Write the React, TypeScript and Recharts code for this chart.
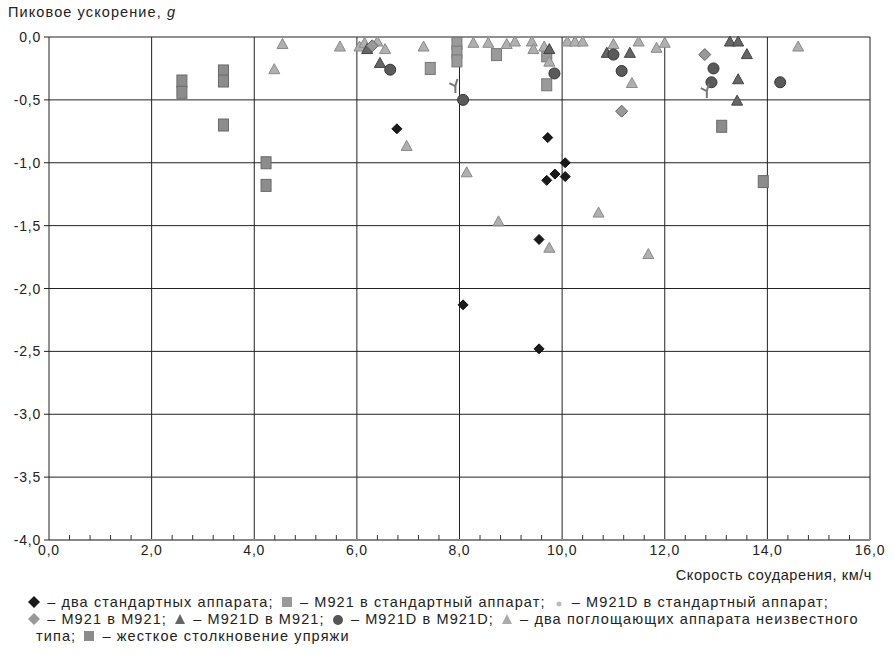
import React from 'react';
import {
  ScatterChart, Scatter, XAxis, YAxis, CartesianGrid, ReferenceLine,
} from 'recharts';

// speed (km/h), peak acceleration (g)
const twoStandard = [
  { x: 6.78, y: -0.73 }, { x: 8.07, y: -2.13 }, { x: 9.55, y: -1.61 },
  { x: 9.55, y: -2.48 }, { x: 9.72, y: -0.8 }, { x: 9.7, y: -1.14 },
  { x: 9.86, y: -1.09 }, { x: 10.06, y: -1.11 }, { x: 10.06, y: -1.0 },
];
const m921ToStandard = [
  { x: 7.43, y: -0.25 }, { x: 7.95, y: -0.05 }, { x: 7.95, y: -0.12 },
  { x: 7.95, y: -0.19 }, { x: 8.72, y: -0.14 }, { x: 9.7, y: -0.15 },
  { x: 9.7, y: -0.38 },
];
const m921dToStandard = [
  { x: 7.92, y: -0.39 }, { x: 12.82, y: -0.43 },
];
const m921ToM921 = [
  { x: 6.3, y: -0.07 }, { x: 11.16, y: -0.59 }, { x: 12.78, y: -0.14 },
];
const m921dToM921 = [
  { x: 6.2, y: -0.1 }, { x: 6.45, y: -0.21 }, { x: 9.75, y: -0.1 },
  { x: 10.87, y: -0.13 }, { x: 11.32, y: -0.13 }, { x: 13.27, y: -0.04 },
  { x: 13.43, y: -0.04 }, { x: 13.6, y: -0.14 }, { x: 13.43, y: -0.34 },
  { x: 13.41, y: -0.51 },
];
const m921dToM921d = [
  { x: 6.65, y: -0.26 }, { x: 8.07, y: -0.5 }, { x: 9.85, y: -0.29 },
  { x: 11.0, y: -0.14 }, { x: 11.16, y: -0.27 }, { x: 12.95, y: -0.25 },
  { x: 12.91, y: -0.36 }, { x: 14.25, y: -0.36 },
];
const unknownType = [
  { x: 4.39, y: -0.26 }, { x: 4.55, y: -0.06 }, { x: 5.67, y: -0.08 },
  { x: 6.05, y: -0.08 }, { x: 6.15, y: -0.05 }, { x: 6.4, y: -0.04 },
  { x: 6.55, y: -0.1 }, { x: 6.97, y: -0.87 }, { x: 7.3, y: -0.08 },
  { x: 8.14, y: -1.08 }, { x: 8.27, y: -0.05 }, { x: 8.56, y: -0.05 },
  { x: 8.76, y: -1.47 }, { x: 8.92, y: -0.06 }, { x: 9.08, y: -0.04 },
  { x: 9.41, y: -0.04 }, { x: 9.44, y: -0.1 }, { x: 9.65, y: -0.08 },
  { x: 9.75, y: -0.2 }, { x: 9.75, y: -1.68 }, { x: 10.1, y: -0.04 },
  { x: 10.25, y: -0.04 }, { x: 10.4, y: -0.04 }, { x: 10.71, y: -1.4 },
  { x: 11.0, y: -0.06 }, { x: 11.36, y: -0.37 }, { x: 11.49, y: -0.04 },
  { x: 11.68, y: -1.73 }, { x: 11.84, y: -0.09 }, { x: 12.0, y: -0.05 },
  { x: 14.6, y: -0.08 },
];
const hardCoupling = [
  { x: 2.59, y: -0.35 }, { x: 2.59, y: -0.44 }, { x: 3.4, y: -0.27 },
  { x: 3.4, y: -0.35 }, { x: 3.4, y: -0.7 }, { x: 4.23, y: -1.0 },
  { x: 4.23, y: -1.18 }, { x: 13.11, y: -0.71 }, { x: 13.92, y: -1.15 },
];

const xMajorTicks = [0, 2, 4, 6, 8, 10, 12, 14, 16];
const xAllTicks = [
  0, 0.4, 0.8, 1.2, 1.6, 2, 2.4, 2.8, 3.2, 3.6, 4, 4.4, 4.8, 5.2, 5.6, 6,
  6.4, 6.8, 7.2, 7.6, 8, 8.4, 8.8, 9.2, 9.6, 10, 10.4, 10.8, 11.2, 11.6, 12,
  12.4, 12.8, 13.2, 13.6, 14, 14.4, 14.8, 15.2, 15.6, 16,
];
const yTicks = [-4, -3.5, -3, -2.5, -2, -1.5, -1, -0.5, 0];

const FONT = "'Liberation Sans', Arial, sans-serif";
const fmt = (v: number) => v.toFixed(1).replace('.', ',');

const isMajor = (v: number) => xMajorTicks.some((m) => Math.abs(m - v) < 1e-6);

const XTick = (props: any) => {
  const { x, y, payload } = props;
  const v = payload.value;
  if (isMajor(v)) {
    return (
      <text x={x} y={y + 15} textAnchor="middle" fontSize={14} letterSpacing={0.8} fill="#222" fontFamily={FONT}>
        {fmt(v)}
      </text>
    );
  }
  return <line x1={x} x2={x} y1={y - 5} y2={y} stroke="#333" strokeWidth={1} />;
};

const YTick = (props: any) => {
  const { x, y, payload } = props;
  return (
    <text x={x} y={y + 5} textAnchor="end" fontSize={14} letterSpacing={0.8} fill="#222" fontFamily={FONT}>
      {fmt(payload.value)}
    </text>
  );
};

// marker shapes
const diamond = (fill: string, stroke: string, r = 5) => (p: any) => (
  <polygon
    points={`${p.cx},${p.cy - r} ${p.cx + r},${p.cy} ${p.cx},${p.cy + r} ${p.cx - r},${p.cy}`}
    fill={fill} stroke={stroke} strokeWidth={1}
  />
);
const square = (fill: string, stroke: string) => (p: any) => (
  <rect x={p.cx - 5} y={p.cy - 6} width={10} height={12} fill={fill} stroke={stroke} strokeWidth={1} />
);
const triangle = (fill: string, stroke: string) => (p: any) => (
  <polygon
    points={`${p.cx},${p.cy - 6} ${p.cx + 5.5},${p.cy + 4} ${p.cx - 5.5},${p.cy + 4}`}
    fill={fill} stroke={stroke} strokeWidth={1}
  />
);
const circle = (fill: string, stroke: string) => (p: any) => (
  <circle cx={p.cx} cy={p.cy} r={5.5} fill={fill} stroke={stroke} strokeWidth={1} />
);
const wye = (stroke: string) => (p: any) => (
  <g stroke={stroke} strokeWidth={2} fill="none">
    <line x1={p.cx} y1={p.cy} x2={p.cx} y2={p.cy + 7} />
    <line x1={p.cx} y1={p.cy} x2={p.cx - 6} y2={p.cy - 3} />
    <line x1={p.cx} y1={p.cy} x2={p.cx + 2} y2={p.cy - 7} />
  </g>
);

const Glyph = ({ kind, fill }: { kind: string; fill: string }) => (
  <svg width={12} height={12} style={{ verticalAlign: '-1px', margin: '0 2px' }}>
    {kind === 'diamond' && <polygon points="6,0 12,6 6,12 0,6" fill={fill} />}
    {kind === 'square' && <rect x={1} y={1} width={10} height={10} fill={fill} />}
    {kind === 'triangle' && <polygon points="6,1 11,11 1,11" fill={fill} />}
    {kind === 'circle' && <circle cx={6} cy={7} r={5} fill={fill} />}
    {kind === 'dot' && <circle cx={6} cy={8} r={2.5} fill={fill} />}
  </svg>
);

export default function App() {
  return (
    <div style={{ position: 'absolute', left: 0, top: 0, width: 894, height: 658, background: '#fff', fontFamily: FONT, color: '#222' }}>
      <div style={{ position: 'absolute', left: 8, top: 4, fontSize: 14.5, letterSpacing: 1.1 }}>
        Пиковое ускорение, <i>g</i>
      </div>
      <ScatterChart width={894} height={565} margin={{ top: 37, right: 24, bottom: 0, left: 0 }}>
        <CartesianGrid vertical={false} stroke="#222" strokeOpacity={1} />
        {xMajorTicks.slice(1).map((v) => (
          <ReferenceLine key={v} x={v} stroke="#222" strokeWidth={1} />
        ))}
        <XAxis
          type="number"
          dataKey="x"
          domain={[0, 16]}
          ticks={xAllTicks}
          interval={0}
          tick={<XTick />}
          tickLine={false}
          tickSize={0}
          tickMargin={0}
          height={25}
          axisLine={{ stroke: '#888', strokeWidth: 2 }}
        />
        <YAxis
          type="number"
          dataKey="y"
          domain={[-4, 0]}
          ticks={yTicks}
          interval={0}
          width={49}
          tick={<YTick />}
          tickSize={5}
          tickMargin={3}
          tickLine={{ stroke: '#222' }}
          axisLine={{ stroke: '#222' }}
        />
        <Scatter data={hardCoupling} shape={square('#8c8c8c', '#6a6a6a')} isAnimationActive={false} />
        <Scatter data={m921ToStandard} shape={square('#9a9a9a', '#777')} isAnimationActive={false} />
        <Scatter data={unknownType} shape={triangle('#b0b0b0', '#8a8a8a')} isAnimationActive={false} />
        <Scatter data={m921dToM921} shape={triangle('#666', '#444')} isAnimationActive={false} />
        <Scatter data={m921ToM921} shape={diamond('#999', '#666', 6)} isAnimationActive={false} />
        <Scatter data={m921dToM921d} shape={circle('#5a5a5a', '#333')} isAnimationActive={false} />
        <Scatter data={m921dToStandard} shape={wye('#777')} isAnimationActive={false} />
        <Scatter data={twoStandard} shape={diamond('#1a1a1a', '#111')} isAnimationActive={false} />
      </ScatterChart>
      <div style={{ position: 'absolute', right: 22, top: 567, fontSize: 14.5, letterSpacing: 0.6 }}>
        Скорость соударения, км/ч
      </div>
      <div style={{ position: 'absolute', left: 26, top: 594, width: 868, fontSize: 14.5, letterSpacing: 1.1, lineHeight: '17px', whiteSpace: 'nowrap' }}>
        <div>
          <Glyph kind="diamond" fill="#1a1a1a" /> – два стандартных аппарата; <Glyph kind="square" fill="#999" /> – M921 в стандартный аппарат; <Glyph kind="dot" fill="#bbb" /> – M921D в стандартный аппарат;
        </div>
        <div>
          <Glyph kind="diamond" fill="#999" /> – M921 в M921; <Glyph kind="triangle" fill="#666" /> – M921D в M921; <Glyph kind="circle" fill="#555" /> – M921D в M921D; <Glyph kind="triangle" fill="#aaa" /> – два поглощающих аппарата неизвестного
        </div>
        <div style={{ paddingLeft: 10 }}>
          типа; <Glyph kind="square" fill="#8c8c8c" /> – жесткое столкновение упряжи
        </div>
      </div>
    </div>
  );
}
